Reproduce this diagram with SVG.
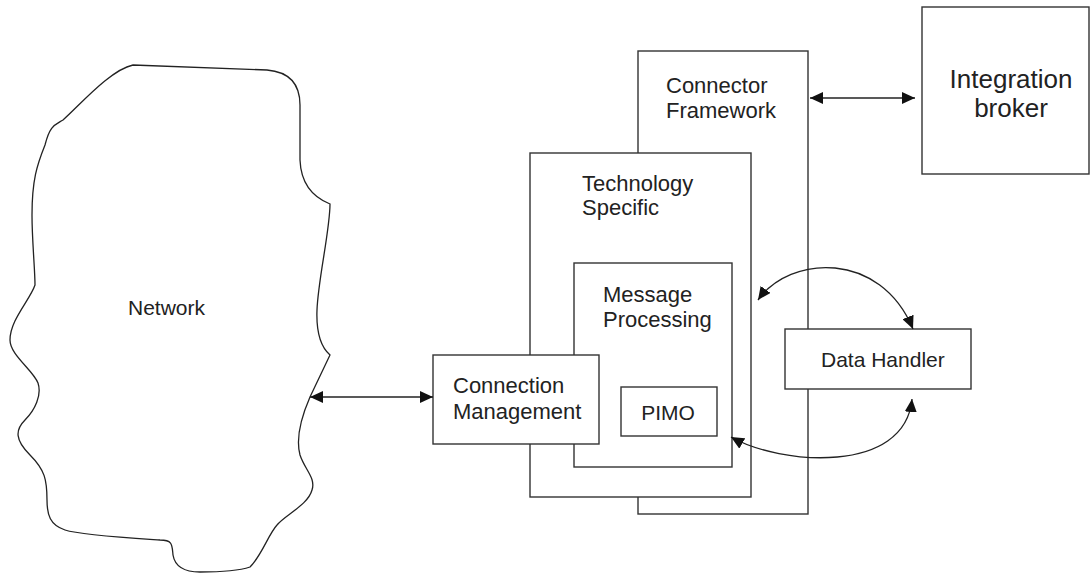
<svg xmlns="http://www.w3.org/2000/svg" width="1091" height="578" viewBox="0 0 1091 578">
<style>
.box{fill:#fff;stroke:#333;stroke-width:1.4}
.t{font-family:"Liberation Sans",Arial,sans-serif;font-size:21px;fill:#222}
.g{font-size:22px}
.ln{fill:none;stroke:#222;stroke-width:1.3}
</style>
<defs>
<marker id="ah" viewBox="0 0 13 12" refX="13" refY="6" markerWidth="13" markerHeight="12" markerUnits="userSpaceOnUse" orient="auto-start-reverse">
<path d="M0,0 L13,6 L0,12 Z" fill="#111"/>
</marker>
</defs>
<rect width="1091" height="578" fill="#fff"/>
<g id="network">
<path class="ln" d="M133,65 L267,70 C290,72 300,85 300,105 L300,160 C301,185 315,198 330,204 C330,230 318,280 317,310 C316,335 322,348 330,355 L310,397 C300,420 296,440 300,455 C305,470 316,478 312,490 C308,505 285,515 277,525 C268,535 262,555 250,567 C235,572 210,572 200,572 C185,572 175,567 173,555 C172,545 173,540 160,540 C130,538 80,535 65,530 C50,525 47,515 47,500 C47,480 45,470 30,455 C15,440 15,430 25,420 C35,410 42,395 38,383 C33,370 10,355 10,340 C10,320 30,300 35,285 C35,270 32,240 32,215 C32,180 37,165 45,145 C50,125 55,125 63,120 C80,105 110,70 133,65 Z"/>
<text class="t" x="128" y="315">Network</text>
</g>
<g id="connector-framework">
<rect class="box" x="638" y="51" width="170" height="463"/>
<text class="t g" x="666" y="93">Connector</text>
<text class="t g" x="666" y="118">Framework</text>
</g>
<g id="integration-broker">
<rect class="box" x="922" y="7" width="167" height="167"/>
<text class="t" x="1011" y="88" text-anchor="middle" style="font-size:26px">Integration</text>
<text class="t" x="1011" y="117" text-anchor="middle" style="font-size:26px">broker</text>
</g>
<g id="technology-specific">
<rect class="box" x="530" y="153" width="221" height="344"/>
<text class="t g" x="582" y="191">Technology</text>
<text class="t g" x="582" y="215">Specific</text>
</g>
<g id="message-processing">
<rect class="box" x="574" y="263" width="158" height="204"/>
<text class="t g" x="603" y="302">Message</text>
<text class="t g" x="603" y="327">Processing</text>
</g>
<g id="pimo">
<rect class="box" x="621" y="387" width="96" height="49"/>
<text class="t" x="668" y="420" text-anchor="middle">PIMO</text>
</g>
<g id="connection-management">
<rect class="box" x="433" y="355" width="166" height="89"/>
<text class="t g" x="453" y="393">Connection</text>
<text class="t g" x="453" y="419">Management</text>
</g>
<g id="data-handler">
<rect class="box" x="785" y="329" width="186" height="60"/>
<text class="t" x="821" y="367">Data Handler</text>
</g>
<g id="connectors">
<path class="ln" d="M310,397 L433,397" marker-start="url(#ah)" marker-end="url(#ah)"/>
<path class="ln" d="M810,98 L915,98" marker-start="url(#ah)" marker-end="url(#ah)"/>
<path class="ln" d="M758,300 C790,255 880,250 913,329" marker-start="url(#ah)" marker-end="url(#ah)"/>
<path class="ln" d="M731,437 C780,465 905,475 912,399" marker-start="url(#ah)" marker-end="url(#ah)"/>
</g>
</svg>
